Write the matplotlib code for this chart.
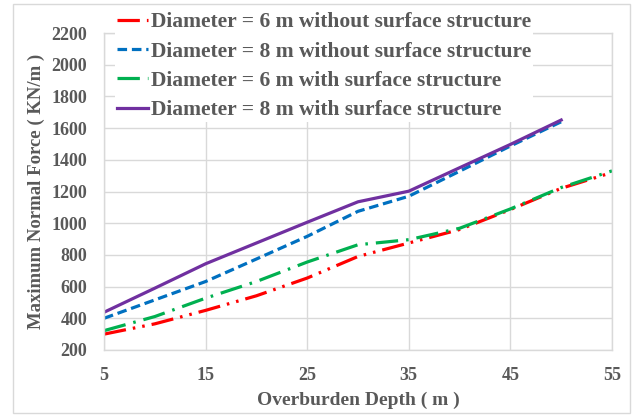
import matplotlib
matplotlib.use("Agg")
import matplotlib.pyplot as plt
from matplotlib.patches import Rectangle

# overburden depth (m)
depth_6m = [5, 10, 15, 20, 25, 30, 35, 40, 45, 50, 55]
depth_8m = [5, 10, 15, 20, 25, 30, 35, 40, 45, 50]

# maximum normal force (kN/m)
d6_without = [300, 365, 450, 542, 654, 790, 875, 960, 1086, 1220, 1320]
d8_without = [400, 516, 632, 774, 917, 1075, 1170, 1328, 1487, 1640]
d6_with = [322, 411, 527, 632, 755, 864, 896, 968, 1090, 1225, 1330]
d8_with = [438, 590, 744, 875, 1006, 1135, 1202, 1350, 1497, 1651]

labels = [
    "Diameter = 6 m without surface structure",
    "Diameter = 8 m without surface structure",
    "Diameter = 6 m with surface structure",
    "Diameter = 8 m with surface structure",
]
x_ticks = [5, 15, 25, 35, 45, 55]
y_ticks = list(range(200, 2201, 200))

TXT = "#595959"
GRID = "#D9D9D9"
plt.rcParams["font.family"] = ["Liberation Serif", "DejaVu Serif"]
plt.rcParams["font.weight"] = "bold"

fig = plt.figure(figsize=(6.38, 4.17), dpi=100)
fig.patches.append(Rectangle((13 / 638, 4 / 417), 617 / 638, 409 / 417,
                             transform=fig.transFigure, fill=False,
                             edgecolor=GRID, lw=1))
ax = fig.add_axes([104 / 638, 1 - 350 / 417, 508 / 638, 317 / 417])

lw = 2.3
ax.plot(depth_6m, d6_without, color="#FF0000", lw=lw, label=labels[0],
        dashes=(7, 2.2, 0.8, 2.2, 0.8, 2.2), dash_capstyle="butt")
ax.plot(depth_8m, d8_without, color="#0070C0", lw=lw, label=labels[1],
        dashes=(3, 1.5), dash_capstyle="butt")
ax.plot(depth_6m, d6_with, color="#00B050", lw=lw, label=labels[2],
        dashes=(7, 2.5, 0.8, 2.5), dash_capstyle="butt")
ax.plot(depth_8m, d8_with, color="#7030A0", lw=lw, label=labels[3])

ax.set_xlim(5, 55)
ax.set_ylim(200, 2200)
ax.set_xticks(x_ticks)
ax.set_yticks(y_ticks)
ax.grid(True, color=GRID, lw=1)
ax.set_axisbelow(True)
for s in ax.spines.values():
    s.set_color(GRID)
    s.set_linewidth(1)
ax.tick_params(length=0, labelsize=13, colors=TXT)
ax.tick_params(axis="x", pad=12)
ax.tick_params(axis="y", pad=12)

ax.set_xlabel("Overburden Depth ( m )", fontsize=14, color=TXT,
              fontweight="bold", labelpad=6)
ax.set_ylabel("Maximum Normal Force ( KN/m )", fontsize=13.5, color=TXT,
              fontweight="bold", labelpad=5)

leg = ax.legend(loc="upper left", bbox_to_anchor=(115 / 638, 1 - 10 / 417),
                bbox_transform=fig.transFigure, fontsize=15.5, frameon=True,
                facecolor="white", edgecolor="none", framealpha=1,
                handlelength=1.45, handletextpad=0.1, labelspacing=0.43,
                borderpad=0.1, borderaxespad=0)
for t in leg.get_texts():
    t.set_color(TXT)
    t.set_fontweight("bold")

fig.savefig("out.png", dpi=100)
